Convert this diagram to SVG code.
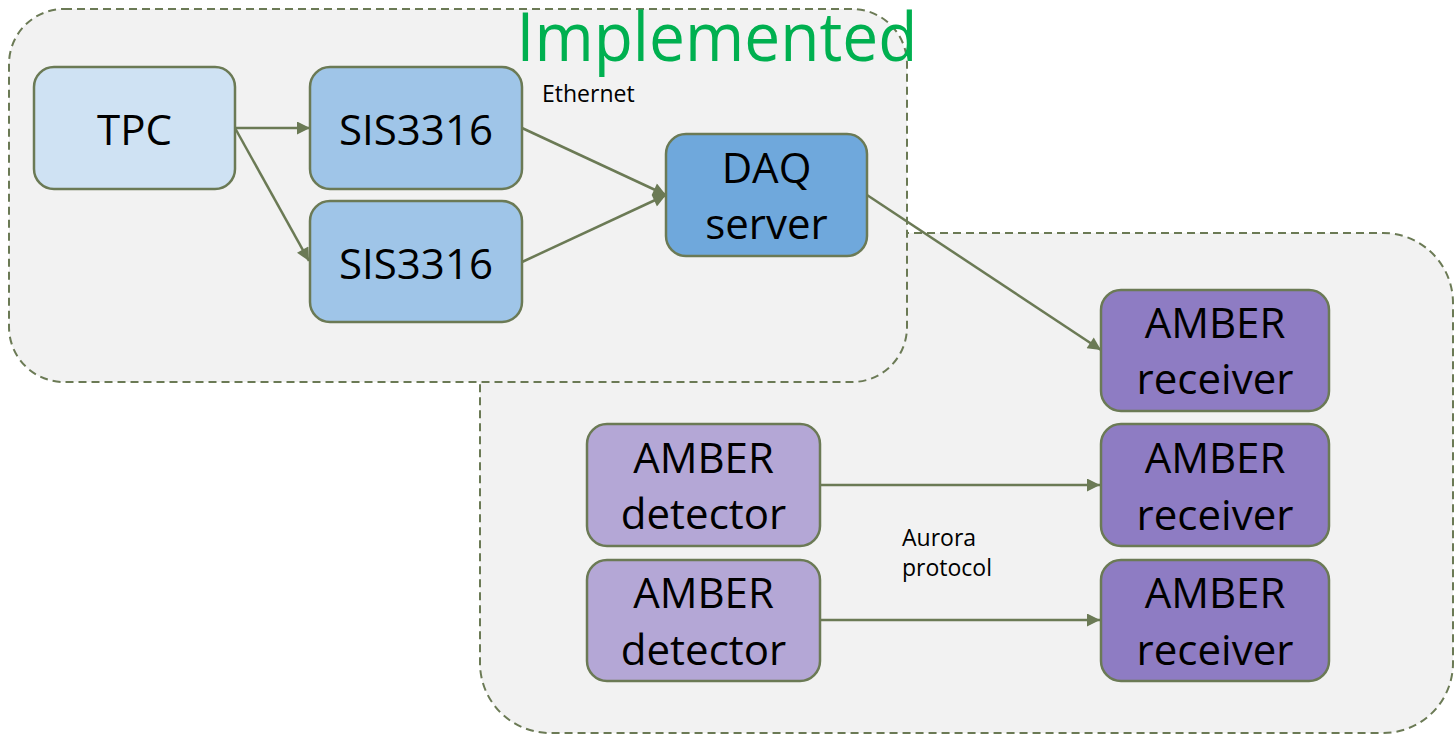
<svg xmlns="http://www.w3.org/2000/svg" width="1455" height="735" viewBox="0 0 1455 735">
<style>
.cont{fill:#F2F2F2;stroke:#6B7A55;stroke-width:2;stroke-dasharray:8 5}
.node{stroke:#6B7A55;stroke-width:2.5}
.t{font-family:"Open Sans","Liberation Sans",sans-serif;font-size:42px;fill:#000;text-anchor:middle}
.s{font-family:"Open Sans","Liberation Sans",sans-serif;font-size:23px;fill:#000}
.c{stroke:#6B7A55;stroke-width:2.5;fill:none;marker-end:url(#ah)}
</style>
<defs>
<marker id="ah" viewBox="0 0 10 10" refX="10" refY="5" markerWidth="6" markerHeight="5.2" orient="auto" markerUnits="strokeWidth">
<path d="M0,0 L10,5 L0,10 z" fill="#6B7A55"/>
</marker>
</defs>
<rect width="1455" height="735" fill="#fff"/>
<g id="planned">
<rect class="cont" x="480" y="233" width="973" height="500" rx="70" ry="70"/>
</g>
<g id="implemented">
<rect class="cont" x="9" y="9" width="898" height="373" rx="55" ry="55"/>
<text x="717" y="61" font-family="Open Sans,Liberation Sans,sans-serif" font-size="68" fill="#00B050" text-anchor="middle" textLength="401" lengthAdjust="spacingAndGlyphs">Implemented</text>
</g>
<g id="connectors">
<line class="c" x1="235" y1="128" x2="310" y2="128"/>
<line class="c" x1="235" y1="128" x2="309" y2="261"/>
<line class="c" x1="522" y1="128" x2="666" y2="195"/>
<line class="c" x1="522" y1="262" x2="666" y2="195"/>
<line class="c" x1="867" y1="195" x2="1101" y2="350"/>
<line class="c" x1="820" y1="485" x2="1100" y2="485"/>
<line class="c" x1="820" y1="620" x2="1100" y2="620"/>
</g>
<g id="label-ethernet"><text class="s" x="542" y="102">Ethernet</text></g>
<g id="label-aurora"><text class="s" x="902" y="546">Aurora</text><text class="s" x="902" y="576">protocol</text></g>
<g id="tpc">
<rect class="node" x="34" y="67" width="201" height="122" rx="20" fill="#CFE2F3"/>
<text class="t" x="134.5" y="145">TPC</text>
</g>
<g id="sis1">
<rect class="node" x="310" y="67" width="212" height="122" rx="20" fill="#9FC5E8"/>
<text class="t" x="416" y="145">SIS3316</text>
</g>
<g id="sis2">
<rect class="node" x="310" y="201" width="212" height="121" rx="20" fill="#9FC5E8"/>
<text class="t" x="416" y="279">SIS3316</text>
</g>
<g id="daq">
<rect class="node" x="666" y="134" width="201" height="122" rx="20" fill="#6FA8DC"/>
<text class="t" x="766.5" y="183">DAQ</text>
<text class="t" x="766.5" y="239">server</text>
</g>
<g id="receiver1">
<rect class="node" x="1101" y="290" width="228" height="121" rx="20" fill="#8E7CC3"/>
<text class="t" x="1215" y="338">AMBER</text>
<text class="t" x="1215" y="394">receiver</text>
</g>
<g id="receiver2">
<rect class="node" x="1101" y="424" width="228" height="122" rx="20" fill="#8E7CC3"/>
<text class="t" x="1215" y="473">AMBER</text>
<text class="t" x="1215" y="530">receiver</text>
</g>
<g id="receiver3">
<rect class="node" x="1101" y="560" width="228" height="121" rx="20" fill="#8E7CC3"/>
<text class="t" x="1215" y="608">AMBER</text>
<text class="t" x="1215" y="665">receiver</text>
</g>
<g id="detector1">
<rect class="node" x="587" y="424" width="233" height="122" rx="20" fill="#B4A7D6"/>
<text class="t" x="703.5" y="473">AMBER</text>
<text class="t" x="703.5" y="529">detector</text>
</g>
<g id="detector2">
<rect class="node" x="587" y="560" width="233" height="121" rx="20" fill="#B4A7D6"/>
<text class="t" x="703.5" y="608">AMBER</text>
<text class="t" x="703.5" y="665">detector</text>
</g>
</svg>
